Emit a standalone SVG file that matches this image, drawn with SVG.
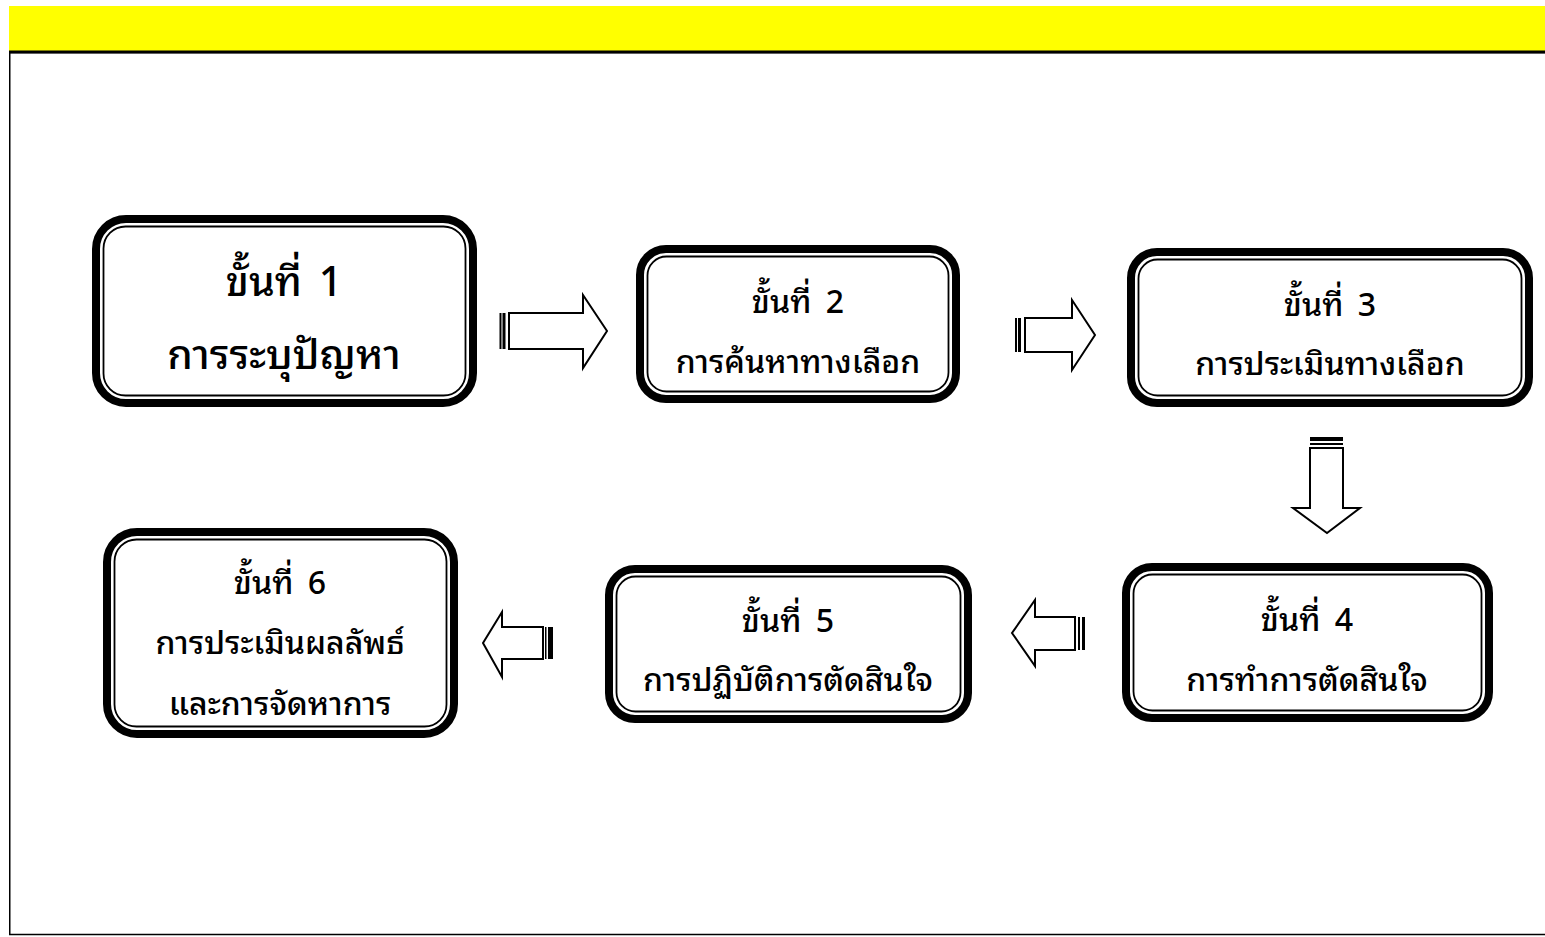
<svg xmlns="http://www.w3.org/2000/svg" width="1545" height="937" viewBox="0 0 1545 937">
<style>
.outer{fill:#fff;stroke:#000;stroke-width:8}
.inner{fill:none;stroke:#000;stroke-width:1.8}
.t{font-family:"Noto Sans Thai Looped","Loma","Garuda","Norasi","Noto Serif Thai","Noto Sans Thai","Noto Sans",sans-serif;fill:#000;text-anchor:middle;font-size:32px;font-weight:500;word-spacing:6px}
.big{font-size:41px}
.arr{fill:#fff;stroke:#000;stroke-width:2;stroke-linejoin:miter}
</style>
<rect x="0" y="0" width="1545" height="937" fill="#fff"/>
<rect x="9" y="6" width="1536" height="45" fill="#ffff00"/>
<rect x="9.75" y="52.5" width="1545" height="882" fill="none" stroke="#000" stroke-width="1.5"/>
<line x1="9" y1="52" x2="1545" y2="52" stroke="#000" stroke-width="3"/>

<g id="node1">
<rect class="outer" x="96" y="219" width="377" height="184" rx="30"/>
<rect class="inner" x="103.5" y="226.5" width="362" height="169" rx="22"/>
<text class="t big" x="284" y="296">ขั้นที่ 1</text>
<text class="t big" x="284" y="369">การระบุปัญหา</text>
</g>
<g id="node2">
<rect class="outer" x="640" y="249" width="316" height="150" rx="26"/>
<rect class="inner" x="647.5" y="256.5" width="301" height="135" rx="19"/>
<text class="t" x="798" y="313">ขั้นที่ 2</text>
<text class="t" x="798" y="373">การค้นหาทางเลือก</text>
</g>
<g id="node3">
<rect class="outer" x="1131" y="252" width="398" height="151" rx="26"/>
<rect class="inner" x="1138.5" y="259.5" width="383" height="136" rx="19"/>
<text class="t" x="1330" y="316">ขั้นที่ 3</text>
<text class="t" x="1330" y="375">การประเมินทางเลือก</text>
</g>
<g id="node4">
<rect class="outer" x="1126" y="567" width="363" height="151" rx="26"/>
<rect class="inner" x="1133.5" y="574.5" width="348" height="136" rx="19"/>
<text class="t" x="1307" y="631">ขั้นที่ 4</text>
<text class="t" x="1307" y="691">การทำการตัดสินใจ</text>
</g>
<g id="node5">
<rect class="outer" x="609" y="569" width="359" height="150" rx="26"/>
<rect class="inner" x="616.5" y="576.5" width="344" height="135" rx="19"/>
<text class="t" x="788" y="632">ขั้นที่ 5</text>
<text class="t" x="788" y="691">การปฏิบัติการตัดสินใจ</text>
</g>
<g id="node6">
<rect class="outer" x="107" y="532" width="347" height="202" rx="30"/>
<rect class="inner" x="114.5" y="539.5" width="332" height="187" rx="22"/>
<text class="t" x="280" y="594">ขั้นที่ 6</text>
<text class="t" x="280" y="654">การประเมินผลลัพธ์</text>
<text class="t" x="280" y="715">และการจัดหาการ</text>
</g>

<g id="connectors">
<g>
<rect x="499.5" y="313" width="2" height="36" fill="#000"/>
<rect x="502.5" y="313" width="3" height="36" fill="#000"/>
<polygon class="arr" points="509,313 583,313 583,295 607,331 583,368 583,349 509,349"/>
</g>
<g>
<rect x="1015" y="318" width="2" height="34" fill="#000"/>
<rect x="1018" y="318" width="3" height="34" fill="#000"/>
<polygon class="arr" points="1025,318 1072,318 1072,300 1095,335 1072,370 1072,352 1025,352"/>
</g>
<g>
<rect x="1310" y="437" width="33" height="4" fill="#000"/>
<rect x="1310" y="443" width="33" height="2" fill="#000"/>
<polygon class="arr" points="1310,448 1343,448 1343,508 1360,508 1327,533 1293,508 1310,508"/>
</g>
<g>
<rect x="1082" y="617" width="3" height="33" fill="#000"/>
<rect x="1078" y="617" width="2" height="33" fill="#000"/>
<polygon class="arr" points="1075,617 1035,617 1035,600 1012,633 1035,666 1035,650 1075,650"/>
</g>
<g>
<rect x="548" y="627" width="5" height="32" fill="#000"/>
<rect x="545" y="627" width="1.5" height="32" fill="#000"/>
<polygon class="arr" points="543,627 502,627 502,612 483,643 502,677 502,659 543,659"/>
</g>
</g>
</svg>
